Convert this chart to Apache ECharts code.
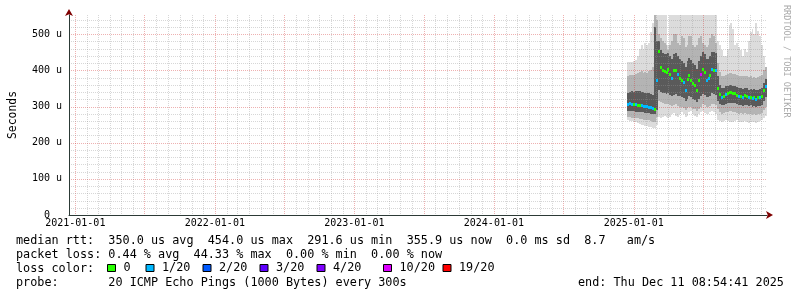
<!DOCTYPE html>
<html><head><meta charset="utf-8">
<script src="https://cdn.jsdelivr.net/npm/echarts@6/dist/echarts.min.js"></script>
<style>html,body{margin:0;padding:0;background:#fff}#c{width:797px;height:297px}</style>
</head><body><div id="c"></div>
<script>
// ---- data (microseconds) ----
const firstColumn = [2024, 11, 15];   // 2024-12-15
const columnDays = 5;
const median = [308,309,307,306,307,305,304,303,302,301,302,300,298,297,293,373,454,409,401,397,396,403,390,379,401,400,390,380,372,368,346,375,386,373,365,359,346,372,390,404,395,373,380,387,405,402,400,352,335,326,330,335,336,339,340,338,337,333,328,330,326,331,328,325,327,323,326,322,325,327,330,345,356];
const lossCount = [1,1,1,0,1,0,0,1,1,1,1,1,1,1,0,1,0,0,0,0,0,0,0,1,0,0,1,0,0,1,1,0,0,0,0,0,0,0,10,0,0,1,1,0,1,0,1,0,0,1,0,1,0,0,0,0,0,0,1,0,1,0,0,1,0,1,0,1,0,1,0,0,1];
const smokeMax = [424,424,424,426,428,440,460,470,458,476,470,476,505,531,553,553,553,553,553,553,553,470,553,553,553,553,553,553,553,553,553,553,553,553,553,553,553,553,553,553,553,553,553,553,553,553,553,480,470,456,440,440,460,525,530,515,470,476,465,455,440,460,450,480,505,515,500,530,510,495,470,440,400];
const smokeHi = [385,386,388,388,390,392,396,398,394,396,394,398,402,410,553,540,500,490,480,475,470,455,470,480,500,500,475,470,495,490,465,470,495,495,470,465,470,490,495,475,470,465,470,490,500,495,475,420,395,385,385,388,390,392,392,390,390,388,385,385,383,385,383,382,383,380,382,380,382,383,388,400,410];
const smokeCoreHi = [338,340,342,341,342,343,342,340,339,338,337,336,335,333,520,480,480,455,448,445,445,448,440,432,445,448,440,432,425,420,410,425,435,428,420,415,405,425,440,450,445,430,432,440,452,450,448,385,360,350,352,356,357,360,360,358,357,354,350,352,348,352,350,347,349,345,348,345,347,349,352,365,375];
const smokeCoreLo = [288,288,287,287,286,285,285,284,284,283,282,281,280,278,278,290,345,340,338,336,335,336,333,330,333,334,330,328,325,323,315,322,328,325,320,318,312,320,328,335,332,325,327,330,336,335,333,315,308,303,305,308,309,311,311,310,309,307,304,305,302,305,303,301,303,300,302,299,301,302,305,315,325];
const smokeLo = [270,270,269,268,268,267,266,265,264,263,262,262,260,258,258,270,315,312,310,308,307,308,305,302,305,306,302,300,298,296,290,295,300,298,294,292,288,294,300,306,304,298,300,302,307,306,304,292,285,280,282,284,285,287,287,286,285,283,280,281,279,281,280,278,279,277,279,276,278,279,282,290,298];
const smokeMin = [262,261,260,258,256,254,252,250,248,246,245,244,242,240,240,250,270,268,272,275,272,268,270,278,282,275,270,280,285,278,270,275,285,288,280,275,272,280,285,288,282,278,280,285,288,285,280,262,260,258,259,262,260,258,256,258,260,262,258,256,258,260,257,255,258,256,258,255,257,259,262,268,275];
const lossBuckets = [0, 1, 2, 3, 4, 10, 19];
const lossLabels = ['0', '1/20', '2/20', '3/20', '4/20', '10/20', '19/20'];
const lossColors = ['#26ff00', '#00b8ff', '#0059ff', '#5e00ff', '#7e00ff', '#dd00ff', '#ff0000'];
const yearLabels = [2021, 2022, 2023, 2024, 2025];
const statLines = [
  'median rtt:  350.0 us avg  454.0 us max  291.6 us min  355.9 us now  0.0 ms sd  8.7   am/s',
  'packet loss: 0.44 % avg  44.33 % max  0.00 % min  0.00 % now'
];
const lossTitle = 'loss color:';
const probeText = 'probe:       20 ICMP Echo Pings (1000 Bytes) every 300s';
const endText = 'end: Thu Dec 11 08:54:41 2025';
const watermark = 'RRDTOOL / TOBI OETIKER';

// ---- layout / style ----
const DAY = 86400000;
const X_MIN = Date.UTC(2020, 11, 15, 12);
const X_MAX = Date.UTC(2025, 11, 15, 12);
const Y_MAX = 553;
const STEP = columnDays * DAY;
const MONO = 'DejaVu Sans Mono';
const MINOR = 'rgba(150,150,150,0.38)';
const MAJOR = 'rgba(210,50,50,0.38)';
const legendLeft = [107, 145.5, 202.5, 259.5, 316.5, 383, 442.5];

const colStart = Date.UTC(firstColumn[0], firstColumn[1], firstColumn[2]);
const dates = median.map((_, i) => colStart + i * STEP);
const pad = n => (n < 10 ? '0' : '') + n;
const fmtDate = v => { const d = new Date(v); return d.getUTCFullYear() + '-' + pad(d.getUTCMonth() + 1) + '-' + pad(d.getUTCDate()); };

const vLines = [];
for (let y = 2020; y <= 2025; y++) for (let m = 0; m < 12; m++) {
  const t = Date.UTC(y, m, 1);
  if (t > X_MIN && t < X_MAX) vLines.push([t, m % 6 === 0 ? 1 : 0]);
}
const hLines = [];
for (let v = 20; v < Y_MAX; v += 20) hLines.push([X_MIN, v, v % 100 === 0 ? 1 : 0]);

function bandItem(params, api) {
  const t = api.value(0), lo = api.value(1), hi = api.value(2);
  const p1 = api.coord([t, hi]), p2 = api.coord([t + STEP, lo]);
  const cs = params.coordSys;
  const x1 = Math.round(p1[0]), x2 = Math.min(Math.round(p2[0]), cs.x + cs.width);
  const y1 = Math.max(Math.round(p1[1]), cs.y), y2 = Math.round(p2[1]);
  return { type: 'rect', shape: { x: x1, y: y1, width: x2 - x1, height: y2 - y1 }, style: { fill: api.visual('color') } };
}
function medianItem(params, api) {
  const t = api.value(0), v = api.value(1);
  const p1 = api.coord([t, v]), p2 = api.coord([t + STEP, v]);
  const x1 = Math.round(p1[0]), x2 = Math.round(p2[0]);
  const yc = Math.round(p1[1]);
  return { type: 'rect', shape: { x: x1, y: yc - 1, width: Math.max(x2 - x1, 2), height: 3 }, style: { fill: api.visual('color') } };
}
function vLineItem(params, api) {
  const cs = params.coordSys;
  const x = Math.round(api.coord([api.value(0), 0])[0]) + 0.5;
  return { type: 'line', shape: { x1: x, y1: cs.y, x2: x, y2: cs.y + cs.height }, style: { stroke: api.value(1) ? MAJOR : MINOR, lineWidth: 1, lineDash: [1, 1] } };
}
function hLineItem(params, api) {
  const cs = params.coordSys;
  const y = Math.round(api.coord([api.value(0), api.value(1)])[1]) + 0.5;
  return { type: 'line', shape: { x1: cs.x, y1: y, x2: cs.x + cs.width, y2: y }, style: { stroke: api.value(2) ? MAJOR : MINOR, lineWidth: 1, lineDash: [1, 1] } };
}

const bands = [
  { name: 'smoke-outer', lo: smokeMin, hi: smokeMax, color: '#dcdcdc' },
  { name: 'smoke-mid', lo: smokeLo, hi: smokeHi, color: '#b4b4b4' },
  { name: 'smoke-core', lo: smokeCoreLo, hi: smokeCoreHi, color: '#5a5a5a' }
];

const series = [];
bands.forEach((b, k) => series.push({
  type: 'custom', name: b.name, z: 1 + k * 0.1, silent: true,
  renderItem: bandItem, encode: { x: 0, y: [1, 2] },
  itemStyle: { color: b.color },
  data: dates.map((t, i) => [t, b.lo[i], b.hi[i]])
}));
series.push({ type: 'custom', name: 'vgrid', z: 3, silent: true, renderItem: vLineItem, encode: { x: 0 }, data: vLines });
series.push({ type: 'custom', name: 'hgrid', z: 3, silent: true, renderItem: hLineItem, encode: { x: 0, y: 1 }, data: hLines });
lossBuckets.forEach((b, k) => series.push({
  type: 'custom', name: lossLabels[k], z: 5, silent: true,
  renderItem: medianItem, encode: { x: 0, y: 1 },
  itemStyle: { color: lossColors[k] },
  data: dates.map((t, i) => [t, median[i], lossCount[i]]).filter(d => d[2] === b)
}));

const chart = echarts.init(document.getElementById('c'), null, { renderer: 'canvas' });
chart.setOption({
  animation: false,
  backgroundColor: '#ffffff',
  grid: { left: 67, right: 30, top: 15, bottom: 82 },
  xAxis: [{
    type: 'value', min: X_MIN, max: X_MAX, z: 6,
    axisLine: { show: true, onZero: false, lineStyle: { color: '#2c3a36', width: 1 } },
    axisTick: { show: false }, splitLine: { show: false },
    axisLabel: { customValues: yearLabels.map(y => Date.UTC(y, 0, 1)), formatter: fmtDate, fontFamily: MONO, fontSize: 10, color: '#000', margin: 3 }
  }, {
    type: 'value', min: X_MIN, max: X_MAX, position: 'bottom', z: 6,
    axisLine: { show: true, onZero: false, symbol: ['none', 'arrow'], symbolSize: [6, 7], symbolOffset: [0, 6], lineStyle: { color: '#7f0000', width: 0 } },
    axisTick: { show: false }, splitLine: { show: false }, axisLabel: { show: false }
  }],
  yAxis: [{
    type: 'value', min: 0, max: Y_MAX, interval: 100, z: 6,
    name: 'Seconds', nameLocation: 'middle', nameRotate: 90, nameGap: 50,
    nameTextStyle: { fontFamily: MONO, fontSize: 11.4, color: '#000' },
    axisLine: { show: true, onZero: false, lineStyle: { color: '#2c3a36', width: 1 } },
    axisTick: { show: false }, splitLine: { show: false },
    axisLabel: { formatter: v => (v % 100 !== 0 ? '' : (v === 0 ? '0  ' : v + ' u')), fontFamily: MONO, fontSize: 10, color: '#000', margin: 7 }
  }, {
    type: 'value', min: 0, max: Y_MAX, position: 'left', z: 6,
    axisLine: { show: true, onZero: false, symbol: ['none', 'arrow'], symbolSize: [6, 7], symbolOffset: [0, 6], lineStyle: { color: '#7f0000', width: 0 } },
    axisTick: { show: false }, splitLine: { show: false }, axisLabel: { show: false }
  }],
  legend: lossLabels.map((n, i) => ({
    data: [n], left: legendLeft[i], top: 262, padding: 0, selectedMode: false,
    icon: 'rect', itemWidth: 8, itemHeight: 7,
    itemStyle: { borderColor: '#000', borderWidth: 1 },
    textStyle: { fontFamily: MONO, fontSize: 11.8, color: '#000', padding: [0, 0, 0, 3] }
  })),
  graphic: [
    { type: 'text', x: 16, y: 241, style: { text: statLines[0], fontFamily: MONO, fontSize: 11.8, fill: '#000', verticalAlign: 'middle' } },
    { type: 'text', x: 16, y: 255, style: { text: statLines[1], fontFamily: MONO, fontSize: 11.8, fill: '#000', verticalAlign: 'middle' } },
    { type: 'text', x: 16, y: 269, style: { text: lossTitle, fontFamily: MONO, fontSize: 11.8, fill: '#000', verticalAlign: 'middle' } },
    { type: 'text', x: 16, y: 283, style: { text: probeText, fontFamily: MONO, fontSize: 11.8, fill: '#000', verticalAlign: 'middle' } },
    { type: 'text', x: 578, y: 283, style: { text: endText, fontFamily: MONO, fontSize: 11.8, fill: '#000', verticalAlign: 'middle' } },
    { type: 'text', x: 786, y: 5, rotation: -Math.PI / 2, style: { text: watermark, fontFamily: MONO, fontSize: 8.5, fill: '#aaaaaa', align: 'left', verticalAlign: 'middle' } }
  ],
  series: series
});
</script>
</body></html>
